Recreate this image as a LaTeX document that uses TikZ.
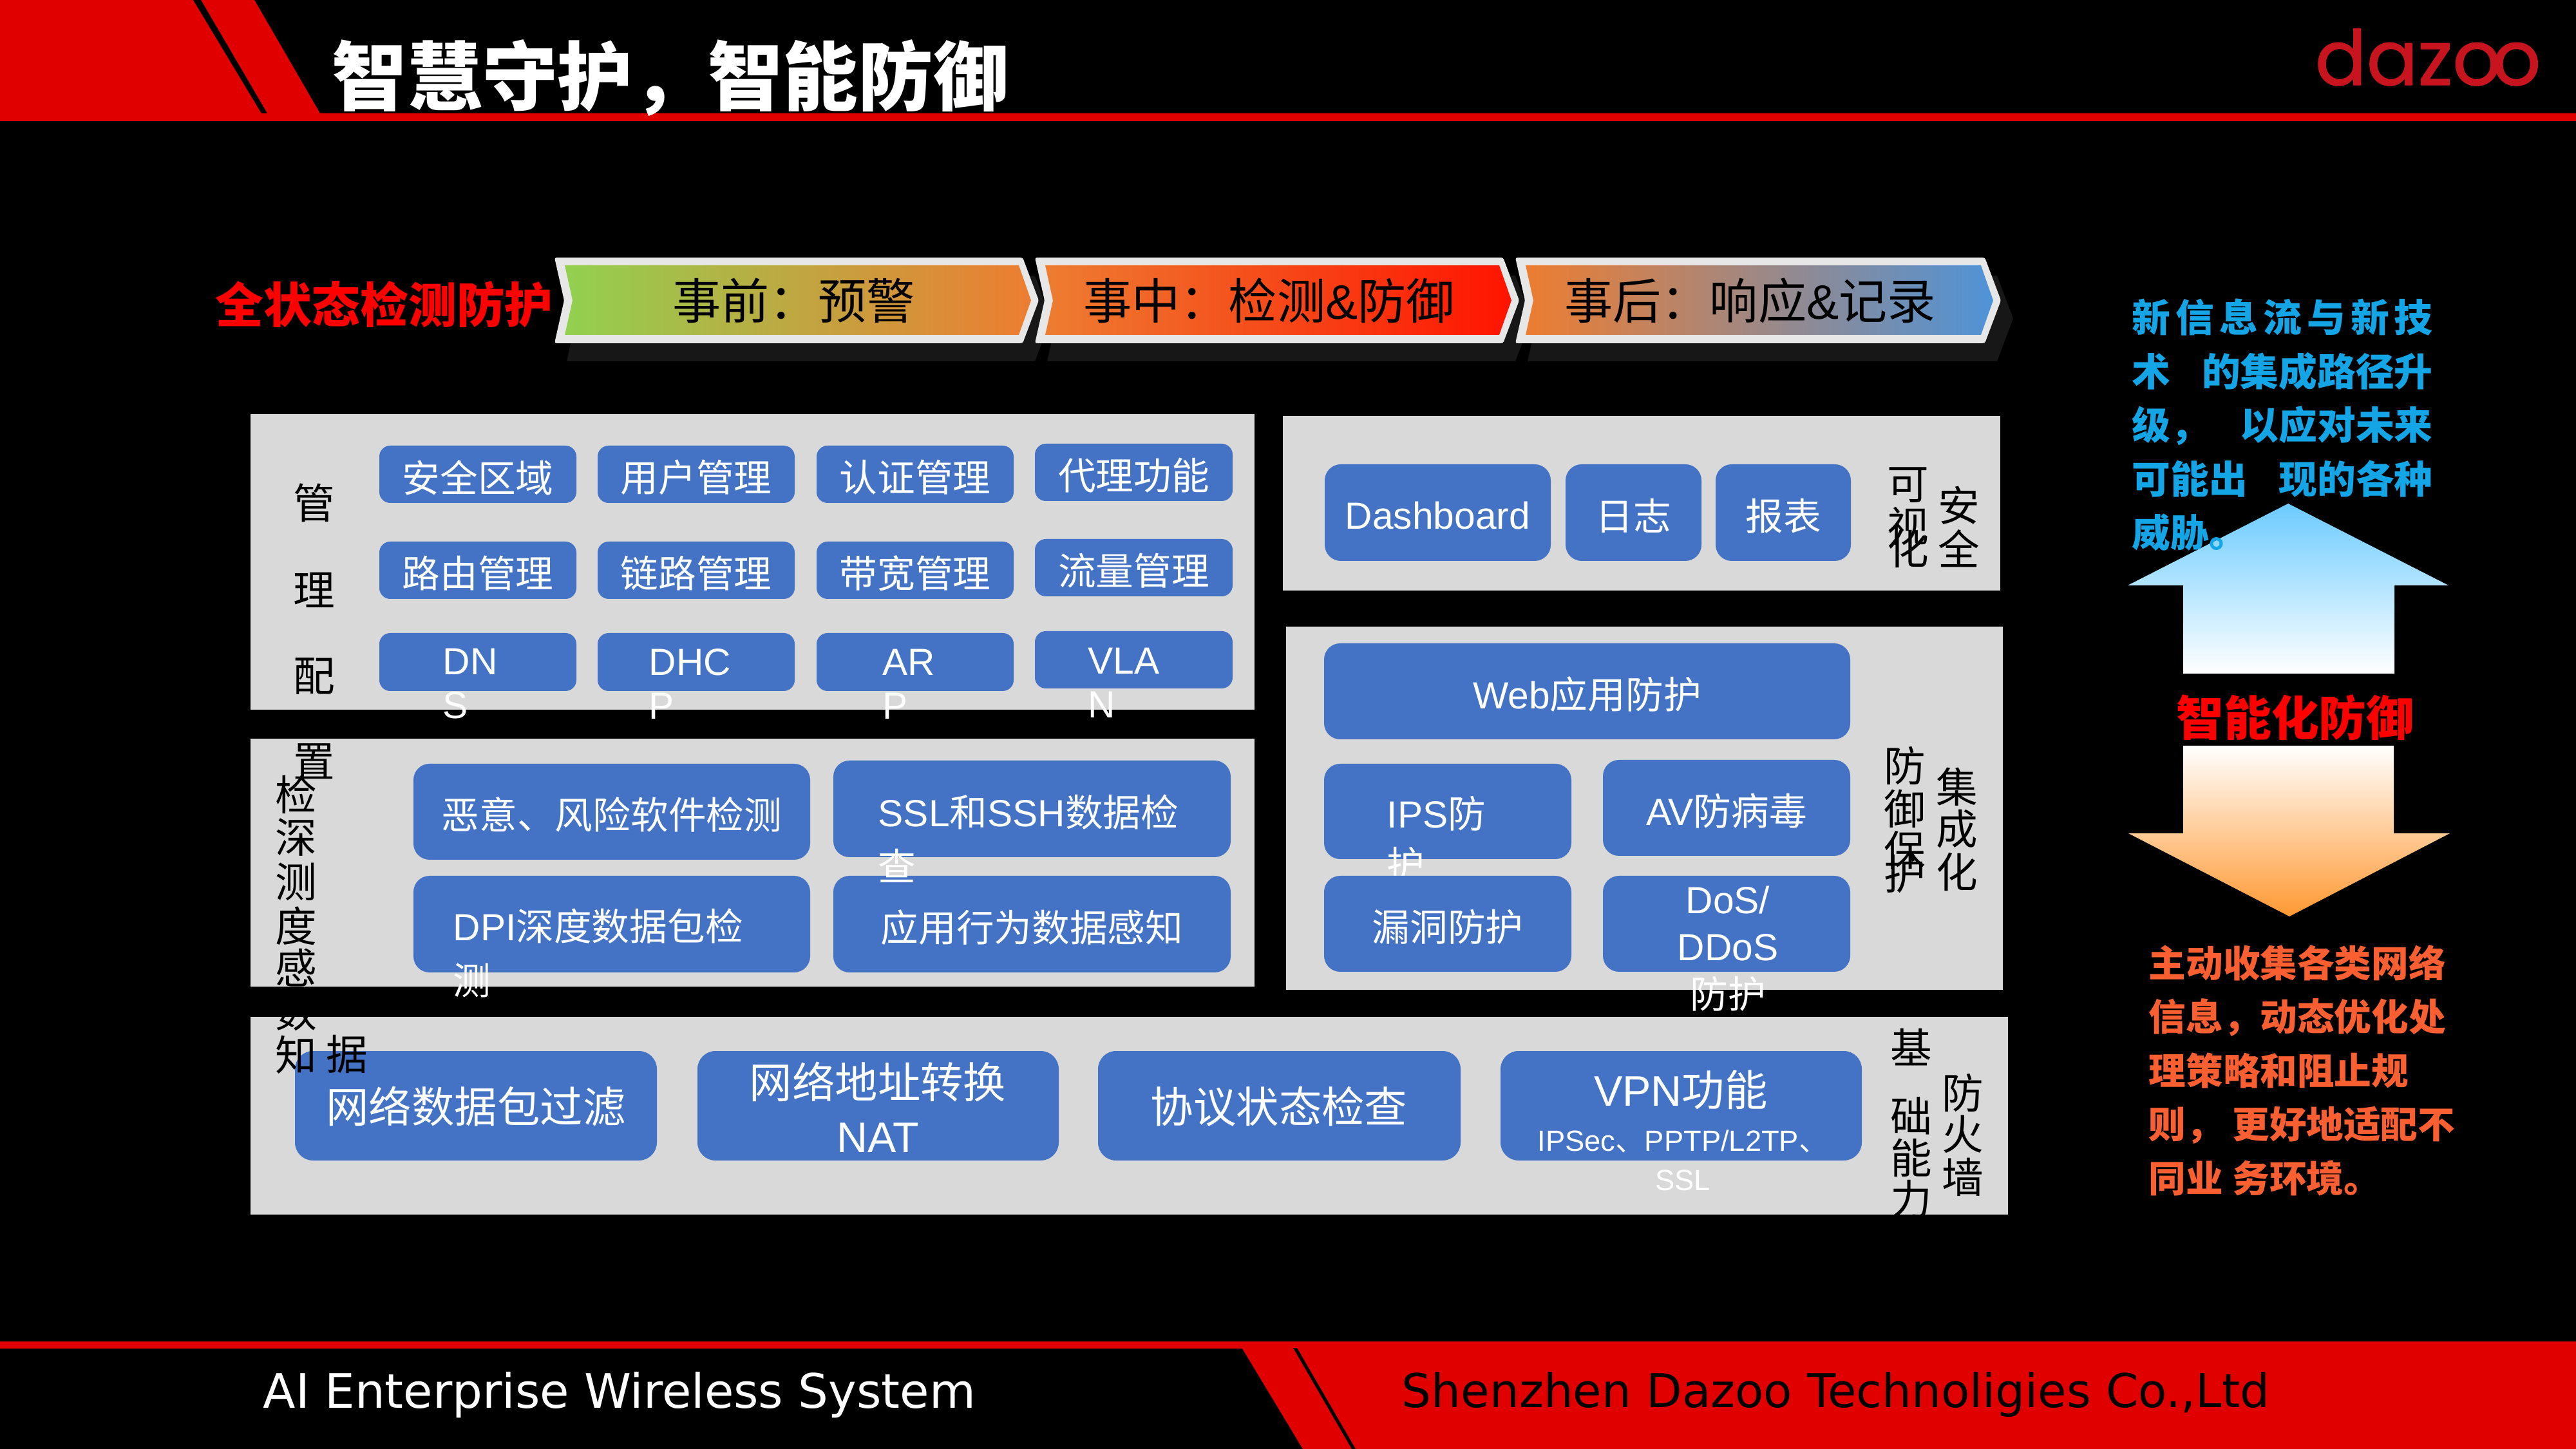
\documentclass[tikz,border=0pt]{standalone}
\usepackage{fontspec}
\usepackage{tikz}
\usepackage{xcolor}
\usetikzlibrary{calc}
\setmainfont{Noto Sans CJK SC}
\newfontfamily\latn{Liberation Sans}
\newfontfamily\logofont[FakeBold=1.2]{Poppins}
\newfontfamily\footfont{DejaVu Sans}
\definecolor{barred}{HTML}{E00000}
\definecolor{panelgray}{HTML}{D9D9D9}
\definecolor{boxblue}{HTML}{4472C4}
\definecolor{chevwhite}{HTML}{E7E7E7}
\definecolor{chevshadow}{HTML}{171717}
\definecolor{newblue}{HTML}{14A5E6}
\definecolor{hotorange}{HTML}{FA5F32}
\definecolor{logored}{HTML}{C8141E}
\definecolor{arrowblue}{HTML}{6CCBFF}
\definecolor{arroworange}{HTML}{FF9933}
\tikzset{
	boxtext/.style={text=white,inner sep=0,font=\fontsize{16.7}{19.4}\selectfont,align=left},
	midtext/.style={midway,boxtext,yshift=-1.4pt},
	sidelabel/.style={text=black,inner sep=0,font=\fontsize{18.4}{20}\selectfont},
	chevtext/.style={text=black,inner sep=0,font=\fontsize{21.4}{25}\selectfont},
	sidetext/.style={inner sep=0,anchor=west,align=left,font=\fontsize{17}{23.76}\bfseries\selectfont},
}
\begin{document}
\begin{tikzpicture}[x=1cm,y=-1cm]
\useasboundingbox (0,0) rectangle (40,22.5);
\fill[black] (0,0) rectangle (40,22.5);
\fill[barred] (0,0) -- (3.95,0) -- (4.97,1.76) -- (40,1.76) -- (40,1.88) -- (0,1.88) -- cycle;
\fill[black] (3.00,0) -- (3.12,0) -- (4.15,1.76) -- (4.06,1.76) -- cycle;
\node[text=white,inner sep=0,anchor=west,font=\fontsize{33.2}{36}\bfseries\selectfont] (title) at (5.15,1.21) {智慧守护，智能防御};
\node[text=logored,inner sep=0,anchor=base east,font=\fontsize{33.6}{36}\logofont] (logo) at (39.46,1.32) {dazo\kern-.12em o};
\fill[barred] (0,20.83) -- (40,20.83) -- (40,22.5) -- (20.23,22.5) -- (19.29,20.94) -- (0,20.94) -- cycle;
\fill[black] (20.08,20.93) -- (20.14,20.93) -- (21.05,22.5) -- (20.99,22.5) -- cycle;
\node[text=white,inner sep=0,anchor=west,font=\fontsize{21}{24}\footfont] (system) at (4.08,21.66) {AI Enterprise Wireless System};
\node[text=black,inner sep=0,anchor=west,font=\fontsize{20.6}{24}\footfont] (company) at (21.76,21.66) {Shenzhen Dazoo Technoligies Co.,Ltd};
\node[text=red,inner sep=0,anchor=west,font=\fontsize{21.3}{25}\bfseries\selectfont] (fullstate) at (3.34,4.73) {全状态检测防护};
\foreach \nm/\xa/\xb/\lc/\rc/\dx/\txt in {
	before/8.61/15.88/92D050/ED7D31/0.08/{事前：预警},
	during/16.07/23.34/ED7D31/FF1400/0.0/{事中：检测{\latn\&}防御},
	after/23.53/30.82/ED7D31/4F93D8/0.0/{事后：响应{\latn\&}记录}}{
	\definecolor{lc}{HTML}{\lc}
	\definecolor{rc}{HTML}{\rc}
	\fill[chevshadow] (\xa+0.19,4.28) -- (\xb+0.19,4.28) -- (\xb+0.44,4.945) -- (\xb+0.19,5.61) -- (\xa+0.19,5.61) -- (\xa+0.34,4.945) -- cycle;
	\fill[chevwhite,rounded corners=0.03cm] (\xa,4.00) -- (\xb,4.00) -- (\xb+0.25,4.665) -- (\xb,5.33) -- (\xa,5.33) -- (\xa+0.15,4.665) -- cycle;
	\shade[left color=lc,right color=rc] (\xa+0.16,4.12) -- (\xb-0.06,4.12) -- (\xb+0.13,4.665) -- (\xb-0.06,5.20) -- (\xa+0.16,5.20) -- (\xa+0.28,4.665) -- cycle;
	\node[chevtext] (\nm) at ($(\xa,4.67)!0.5!(\xb,4.67)+(\dx,0)$) {\txt};
}
\fill[panelgray] (3.89,6.43) rectangle (19.48,11.02);
\fill[panelgray] (3.89,11.47) rectangle (19.48,15.32);
\fill[panelgray] (3.89,15.79) rectangle (31.18,18.86);
\fill[panelgray] (19.92,6.46) rectangle (31.06,9.17);
\fill[panelgray] (19.97,9.73) rectangle (31.10,15.37);
\foreach \nm/\xa/\ya/\xb/\yb/\txt in {
	zone/5.89/6.92/8.95/7.81/安全区域,
	user/9.28/6.92/12.34/7.81/用户管理,
	auth/12.68/6.92/15.74/7.81/认证管理,
	proxy/16.07/6.89/19.14/7.78/代理功能,
	route/5.89/8.41/8.95/9.30/路由管理,
	link/9.28/8.41/12.34/9.30/链路管理,
	band/12.68/8.41/15.74/9.30/带宽管理,
	flow/16.07/8.37/19.14/9.26/流量管理,
	dns/5.89/9.83/8.95/10.73/{},
	dhcp/9.28/9.83/12.34/10.73/{},
	arp/12.68/9.83/15.74/10.73/{},
	vlan/16.07/9.80/19.14/10.69/{}}{
	\fill[boxblue,rounded corners=0.17cm] (\xa,\ya) rectangle (\xb,\yb) node[midtext] (\nm) {\txt};
}
\foreach \nm/\xa/\ya/\txt in {
	dnstxt/6.87/10.62/{{\latn DN}\\{\latn S}},
	dhcptxt/10.07/10.62/{{\latn DHC}\\{\latn P}},
	arptxt/13.70/10.62/{{\latn AR}\\{\latn P}},
	vlantxt/16.89/10.60/{{\latn VLA}\\{\latn N}}}{
	\node[boxtext,anchor=west] (\nm) at (\xa,\ya) {\txt};
}
\foreach \nm/\xa/\ya/\xb/\yb/\txt in {
	malware/6.42/11.86/12.58/13.35/恶意、风险软件检测,
	sslbox/12.94/11.81/19.11/13.31/{},
	dpibox/6.42/13.60/12.58/15.10/{},
	appbox/12.94/13.60/19.11/15.10/应用行为数据感知}{
	\fill[boxblue,rounded corners=0.25cm] (\xa,\ya) rectangle (\xb,\yb) node[midtext] (\nm) {\txt};
}
\node[boxtext,anchor=west] (ssltxt) at (13.63,13.02) {{\latn SSL}和{\latn SSH}数据检\\[4.5pt]查};
\node[boxtext,anchor=west] (dpitxt) at (7.03,14.80) {{\latn DPI}深度数据包检\\[4.5pt]测};
\foreach \nm/\xa/\ya/\xb/\yb/\txt in {
	packet/4.58/16.32/10.20/18.02/{},
	nat/10.83/16.32/16.44/18.02/{},
	state/17.05/16.32/22.68/18.02/{},
	vpn/23.30/16.32/28.91/18.02/{}}{
	\fill[boxblue,rounded corners=0.28cm] (\xa,\ya) rectangle (\xb,\yb) node[midtext] (\nm) {\txt};
}
\node[boxtext,font=\fontsize{18.9}{24}\selectfont] (packettxt) at (7.39,17.18) {网络数据包过滤};
\node[boxtext,align=center,font=\fontsize{18.9}{24}\selectfont] (nattxt) at (13.63,17.19) {网络地址转换\\{\latn NAT}};
\node[boxtext,font=\fontsize{18.9}{24}\selectfont] (statetxt) at (19.86,17.18) {协议状态检查};
\node[boxtext,font=\fontsize{18.9}{24}\selectfont] (vpntxt) at (26.10,16.92) {{\latn VPN}功能};
\node[boxtext,align=center,font=\fontsize{12.9}{17.4}\selectfont] (ipsectxt) at (26.13,18.02) {{\latn IPSec}、{\latn PPTP/L2TP}、\\{\latn SSL}};
\foreach \nm/\xa/\ya/\xb/\yb/\txt in {
	dash/20.57/7.21/24.08/8.71/{{\latn Dashboard}},
	logs/24.31/7.21/26.42/8.71/日志,
	report/26.64/7.21/28.74/8.71/报表,
	web/20.56/9.99/28.73/11.48/{{\latn Web}应用防护},
	ips/20.56/11.86/24.40/13.34/{}}{
	\fill[boxblue,rounded corners=0.25cm] (\xa,\ya) rectangle (\xb,\yb) node[midtext] (\nm) {\txt};
}
\node[boxtext,anchor=west] (ipstxt) at (21.53,13.03) {{\latn IPS}防\\[3pt]护};
\foreach \nm/\xa/\ya/\xb/\yb/\txt in {
	vuln/20.56/13.60/24.40/15.09/漏洞防护,
	av/24.89/11.80/28.73/13.29/{{\latn AV}防病毒},
	ddos/24.89/13.60/28.73/15.09/{}}{
	\fill[boxblue,rounded corners=0.25cm] (\xa,\ya) rectangle (\xb,\yb) node[midtext] (\nm) {\txt};
}
\node[boxtext,align=center,font=\fontsize{16.7}{21}\selectfont] (ddostxt) at (26.83,14.73) {{\latn DoS/}\\{\latn DDoS}\\防护};
\foreach \cx/\cy/\txt [count=\i] in {
	4.88/7.81/管,4.88/9.16/理,4.88/10.50/配,4.88/11.82/置,
	4.60/12.34/检,4.60/13.00/深,4.60/13.69/测,4.60/14.38/度,4.60/15.03/感,4.60/15.71/数,4.60/16.38/知,5.39/16.37/据,
	29.63/7.53/可,29.63/8.17/视,29.63/8.52/化,30.42/7.85/安,30.42/8.52/全,
	29.58/11.89/防,29.58/12.56/御,29.58/13.20/保,29.58/13.57/护,30.39/12.22/集,30.39/12.87/成,30.39/13.54/化,
	29.68/16.26/基,29.68/17.33/础,29.68/17.98/能,29.68/18.62/力,30.48/16.97/防,30.48/17.61/火,30.48/18.28/墙}{
	\node[sidelabel] (side\i) at (\cx,\cy) {\txt};
}
\shade[top color=arrowblue,bottom color=white] (35.53,7.82) -- (38.02,9.09) -- (37.18,9.09) -- (37.18,10.46) -- (33.90,10.46) -- (33.90,9.09) -- (33.04,9.09) -- cycle;
\shade[top color=white,bottom color=arroworange] (33.90,11.58) -- (37.17,11.58) -- (37.17,12.94) -- (38.04,12.94) -- (35.55,14.23) -- (33.05,12.94) -- (33.90,12.94) -- cycle;
\node[text=red,inner sep=0,font=\fontsize{21}{25}\bfseries\selectfont] (smart) at (35.64,11.14) {智能化防御};
\node[sidetext,text=newblue,text width=4.67cm] (newtrend) at (33.10,6.60) {%
	\makebox[4.67cm][s]{新\hfill 信\hfill 息\hfill 流\hfill 与\hfill 新\hfill 技}\\
	\makebox[4.67cm][s]{术\hfill 的集成路径升}\\
	\makebox[4.67cm][s]{级，\hfill 以应对未来}\\
	\makebox[4.67cm][s]{可能出\hfill 现的各种}\\
	威胁。};
\node[sidetext,text=hotorange,font=\fontsize{16.4}{23.76}\bfseries\selectfont] (active) at (33.36,16.62) {%
	主动收集各类网络\\
	信息，动态优化处\\
	理策略和阻止规\\
	则，\hspace{0.25em}更好地适配不\\
	同业\hspace{0.25em}务环境。};
\end{tikzpicture}
\end{document}
